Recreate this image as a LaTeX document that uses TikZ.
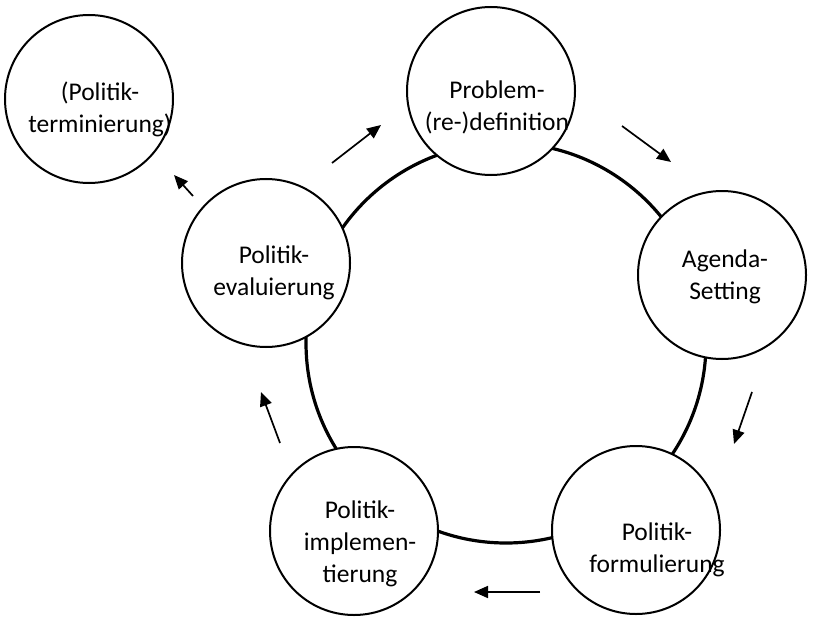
\documentclass[tikz,border=0pt]{standalone}
\usepackage{fontspec}
\setmainfont{Carlito}
\usetikzlibrary{arrows.meta}
\begin{document}
\begin{tikzpicture}[x=1pt,y=-1pt,
  stage/.style={circle,draw=black,line width=2pt,fill=white,minimum size=#1,inner sep=0pt},
  stage/.default=168pt,
  label/.style={align=center,font=\fontsize{25.5}{32}\selectfont},
  flow/.style={line width=1.7pt,-{Triangle[length=14pt,width=12pt]}},
  cycle/.style={line width=3.2pt}]
\useasboundingbox (0,0) rectangle (826,631);
% closed policy cycle behind the stages
\node[circle,draw,cycle,minimum size=400pt,inner sep=0pt] (ring) at (506,343) {};
% stage circles
\node[stage] (prob) at (491,91) {};
\node[stage] (agen) at (722,275) {};
\node[stage] (form) at (636,530) {};
\node[stage] (impl) at (354,531) {};
\node[stage] (eval) at (266,263) {};
\node[stage] (term) at (89,99) {};
% stage labels
\node[label] (tprob) at (497,107) {Problem-\\(re-)definition};
\node[label] (tagen) at (725,277) {Agenda-\\Setting};
\node[label] (tform) at (657,550) {Politik-\\formulierung};
\node[label] (timpl) at (360,544) {Politik-\\implemen-\\tierung};
\node[label] (teval) at (274,273) {Politik-\\evaluierung};
\node[label] (tterm) at (100,109) {(Politik-\\terminierung)};
% direction arrows between stages
\coordinate (a1s) at (332,163); \coordinate (a1e) at (381,125);
\coordinate (a2s) at (622,126); \coordinate (a2e) at (671,162);
\coordinate (a3s) at (752,392); \coordinate (a3e) at (734,444);
\coordinate (a4s) at (540,592); \coordinate (a4e) at (474,592);
\coordinate (a5s) at (280,443); \coordinate (a5e) at (261,392);
\coordinate (a6s) at (193,196); \coordinate (a6e) at (174,175);
\draw[flow] (a1s) -- (a1e);
\draw[flow] (a2s) -- (a2e);
\draw[flow] (a3s) -- (a3e);
\draw[flow] (a4s) -- (a4e);
\draw[flow] (a5s) -- (a5e);
\draw[flow] (a6s) -- (a6e);
\end{tikzpicture}
\end{document}
